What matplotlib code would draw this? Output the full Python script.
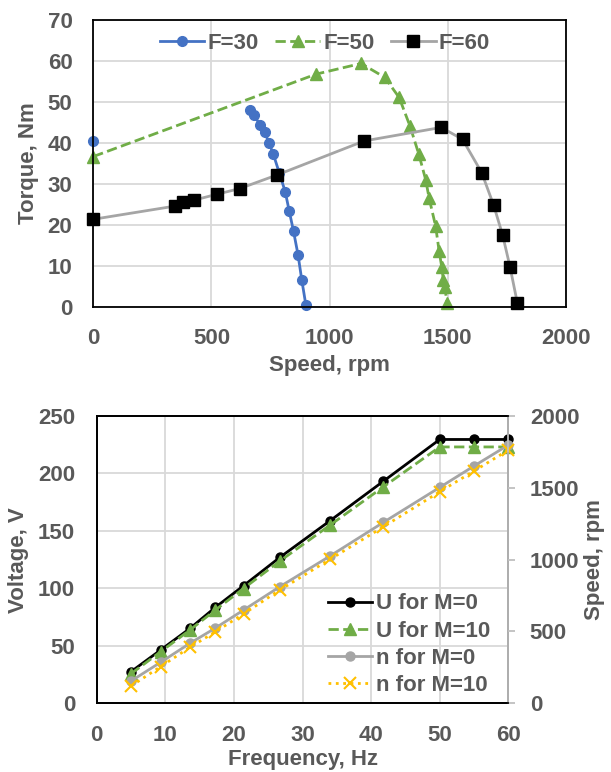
import numpy as np
import matplotlib
matplotlib.use('Agg')
import matplotlib.pyplot as plt

plt.rcParams['font.family'] = ['Liberation Sans', 'DejaVu Sans']
plt.rcParams['font.weight'] = 'bold'
plt.rcParams['axes.labelweight'] = 'bold'
plt.rcParams['font.size'] = 16

TXT = '#595959'
GRID = '#d9d9d9'

# --- top chart: torque vs speed ---
speed_30 = [0, np.nan, 661, 678, 706, 725, 743, 762, 787, 812, 829, 847, 866, 882, 899]
torque_30 = [40.6, np.nan, 48.0, 46.8, 44.5, 42.6, 40.1, 37.2, 32.7, 28.1, 23.4, 18.5, 12.8, 6.6, 0.6]

speed_50 = [0, 943, 1133, 1233, 1294, 1340, 1377, 1406, 1421, 1448, 1463, 1474, 1481, 1487, 1497]
torque_50 = [36.7, 56.8, 59.4, 56.0, 51.1, 44.1, 37.3, 31.1, 26.5, 19.8, 13.7, 9.8, 6.6, 4.8, 0.9]

speed_60 = [0, 344, 379, 428, 523, 620, 777, 1146, 1472, 1562, 1643, 1694, 1732, 1763, 1794]
torque_60 = [21.4, 24.6, 25.5, 26.1, 27.5, 28.9, 32.2, 40.5, 43.8, 40.9, 32.8, 24.8, 17.5, 9.8, 1.0]

# --- bottom chart: voltage / speed vs frequency ---
freq = [5, 9.3, 13.6, 17.3, 21.4, 26.7, 34, 41.8, 50, 55, 60]
u_m0 = [27.5, 46.3, 65.2, 83.5, 102.3, 127, 158.8, 193.3, 229.6, 229.6, 229.6]
u_m10 = [25.7, 44.8, 63.8, 81.2, 99.9, 123.8, 155, 188.4, 223.1, 223.1, 223.1]
n_m0 = [155, 285, 418, 524, 649, 812, 1025, 1260, 1503, 1652, 1798]
n_m10 = [120, 255, 390, 498, 622, 789, 1002, 1229, 1473, 1617, 1763]

fig = plt.figure(figsize=(6.11, 7.72), dpi=100)

ax = fig.add_axes([0.1527, 0.6023, 0.7737, 0.3718])
ax.plot(speed_30, torque_30, '-', color='#4472C4', lw=2, marker='o', ms=7,
        label='F=30', clip_on=False)
ax.plot(speed_50, torque_50, '--', color='#70AD47', lw=2, marker='^', ms=8,
        label='F=50', clip_on=False)
ax.plot(speed_60, torque_60, '-', color='#A5A5A5', lw=2, marker='s', ms=8,
        mfc='black', mec='black', label='F=60', clip_on=False)
ax.set_xlim(0, 2000)
ax.set_ylim(0, 70)
ax.set_xticks(np.arange(0, 2001, 500))
ax.set_yticks(np.arange(0, 71, 10))
ax.grid(True, color=GRID, lw=1.3)
ax.set_axisbelow(True)
ax.tick_params(length=0, pad=15, colors=TXT)
for s in ax.spines.values():
    s.set_color('black')
    s.set_linewidth(1.3)
ax.set_xlabel('Speed, rpm', color=TXT)
ax.set_ylabel('Torque, Nm', color=TXT)
ax.xaxis.set_label_coords(0.5, -0.168)
ax.yaxis.set_label_coords(-0.138, 0.5)
ax.yaxis.label.set_va('center')
leg = ax.legend(loc='upper center', bbox_to_anchor=(0.49, 0.956), ncol=3, frameon=False,
                handlelength=2.0, handletextpad=0.15, columnspacing=0.75, borderpad=0,
                borderaxespad=0)
for t in leg.get_texts():
    t.set_color(TXT)

# bottom chart
bx = fig.add_axes([0.1583, 0.0890, 0.6736, 0.3721])
bx2 = bx.twinx()
l1, = bx.plot(freq, u_m0, '-', color='black', lw=2, marker='o', ms=6.5, label='U for M=0')
l2, = bx.plot(freq, u_m10, '--', color='#70AD47', lw=2, marker='^', ms=8, label='U for M=10')
l3, = bx2.plot(freq, n_m0, '-', color='#A5A5A5', lw=2, marker='o', ms=6.5, label='n for M=0')
l4, = bx2.plot(freq, n_m10, ':', color='#FFC000', lw=2, marker='x', ms=9, mew=1.5,
               label='n for M=10')
for a in (bx, bx2):
    for ln in a.get_lines():
        ln.set_clip_on(False)
bx.set_xlim(0, 60)
bx.set_ylim(0, 250)
bx2.set_ylim(0, 2000)
bx.set_xticks(np.arange(0, 61, 10))
bx.set_yticks(np.arange(0, 251, 50))
bx2.set_yticks(np.arange(0, 2001, 500))
bx.grid(True, color=GRID, lw=1.3)
bx.set_axisbelow(True)
bx.tick_params(length=0, pad=15.5, colors=TXT)
bx2.tick_params(length=5, width=1.3, color='#bfbfbf', pad=10.5, labelcolor=TXT)
for s in bx.spines.values():
    s.set_color('black')
    s.set_linewidth(1.3)
for name, s in bx2.spines.items():
    s.set_linewidth(1.3)
    s.set_color('#bfbfbf' if name == 'right' else 'black')
bx.set_xlabel('Frequency, Hz', color=TXT)
bx.set_ylabel('Voltage, V', color=TXT)
bx2.set_ylabel('Speed, rpm', color=TXT)
bx.xaxis.set_label_coords(0.5, -0.16)
bx.yaxis.set_label_coords(-0.191, 0.5)
bx.yaxis.label.set_va('center')
bx2.yaxis.set_label_coords(1.2106, 0.5)
bx2.yaxis.label.set_va('center')
leg2 = bx2.legend(handles=[l1, l2, l3, l4], loc='lower left', bbox_to_anchor=(0.562, 0.025),
                  frameon=False, handlelength=2.0, handletextpad=0.15, labelspacing=0.28,
                  borderpad=0, borderaxespad=0)
for t in leg2.get_texts():
    t.set_color(TXT)

fig.savefig('out.png', dpi=100)
